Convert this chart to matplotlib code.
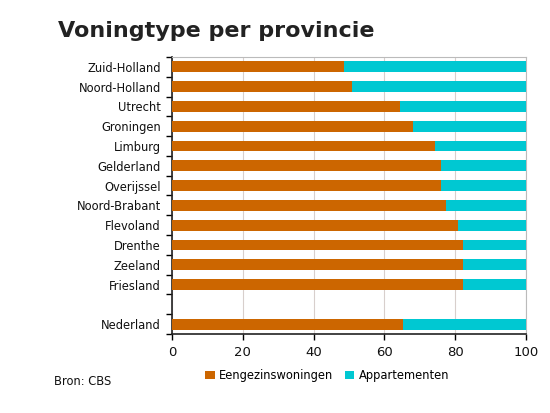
import numpy as np
import matplotlib.pyplot as plt
from matplotlib.ticker import FixedLocator

plt.rcParams['font.family'] = ['DejaVu Sans']

# data (percentages), top to bottom; '' is the empty slot
provincies = ['Zuid-Holland', 'Noord-Holland', 'Utrecht', 'Groningen', 'Limburg',
              'Gelderland', 'Overijssel', 'Noord-Brabant', 'Flevoland', 'Drenthe',
              'Zeeland', 'Friesland', '', 'Nederland']
eengezins = [48.7, 50.8, 64.4, 68.0, 74.4, 76.1, 76.1, 77.4, 80.8, 82.3,
             82.3, 82.3, 0, 65.3]
appartementen = [100 - v if p else 0 for v, p in zip(eengezins, provincies)]

orange = '#CC6600'
cyan = '#00C8D2'

fig = plt.figure(figsize=(5.5, 4.13), dpi=100)
ax = fig.add_axes([0.3127, 0.1913, 0.6437, 0.6707])

pos = np.arange(len(provincies))
ax.barh(pos, eengezins, height=0.55, color=orange, label='Eengezinswoningen', zorder=3)
ax.barh(pos, appartementen, left=eengezins, height=0.55, color=cyan,
        label='Appartementen', zorder=3)

ax.set_xlim(0, 100)
ax.set_ylim(len(provincies) - 0.5, -0.5)
ax.set_xticks([0, 20, 40, 60, 80, 100])
ax.set_yticks(pos)
ax.set_yticklabels(provincies)
ax.yaxis.set_minor_locator(FixedLocator(np.arange(-0.5, len(provincies), 1)))
ax.tick_params(axis='y', which='major', length=0, pad=8, labelsize=8.3, labelcolor='#111111')
ax.tick_params(axis='y', which='minor', length=4, width=1, direction='out')
ax.tick_params(axis='x', length=4, width=1, labelsize=9.5, pad=5, labelcolor='#111111')

ax.grid(axis='x', color='#d8cfcc', linewidth=0.8, zorder=0)
for s in ['top', 'right']:
    ax.spines[s].set_color('#bbbbbb')
    ax.spines[s].set_linewidth(0.8)
for s in ['left', 'bottom']:
    ax.spines[s].set_color('#222222')
    ax.spines[s].set_linewidth(1.2)

fig.text(0.105, 0.91, 'Voningtype per provincie', fontsize=16, fontweight='bold',
         color='#222222', va='baseline')
fig.text(0.098, 0.068, 'Bron: CBS', fontsize=8.3, va='baseline', color='#111111')

fig.legend(loc='lower center', bbox_to_anchor=(0.595, 0.05), ncol=2, frameon=False,
           fontsize=8.3, handlelength=0.8, handleheight=0.8, handletextpad=0.4,
           columnspacing=1.0)

fig.savefig('out.png', dpi=100)
